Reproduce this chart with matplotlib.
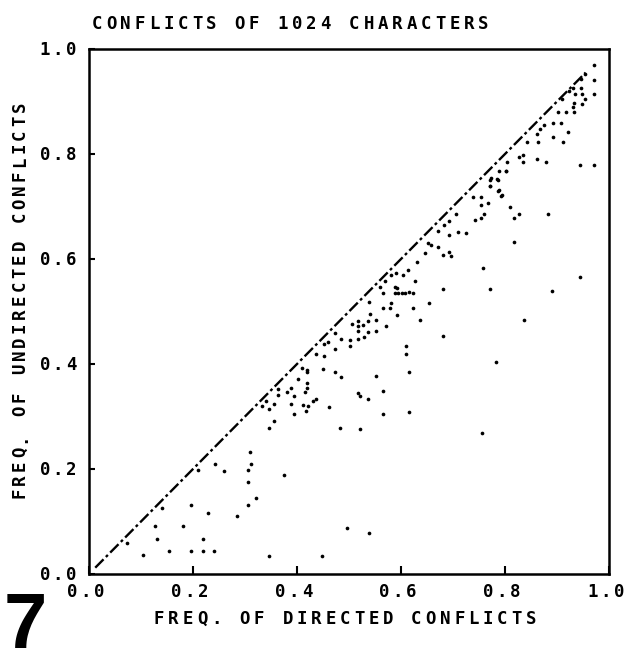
import matplotlib
matplotlib.use("Agg")
import matplotlib.pyplot as plt
from matplotlib.transforms import IdentityTransform

# ── Data: (directed, undirected) conflict frequencies ──
DIAG_X = [0.012, 0.955]
DIAG_Y = [0.012, 0.955]

DIRECTED = [
    0.074, 0.104, 0.127, 0.131, 0.140, 0.153, 0.180, 0.196, 0.197, 0.210,
    0.219, 0.219, 0.229, 0.240, 0.242, 0.259, 0.284, 0.305, 0.305, 0.305,
    0.309, 0.312, 0.322, 0.346, 0.449, 0.375, 0.496, 0.538,
    0.346, 0.355, 0.394, 0.346, 0.332, 0.340, 0.356, 0.364, 0.364, 0.380,
    0.388, 0.388, 0.394, 0.401, 0.412, 0.417, 0.415, 0.419, 0.419, 0.419,
    0.420, 0.410, 0.422, 0.430, 0.437, 0.462, 0.436, 0.452, 0.450, 0.459,
    0.452, 0.473, 0.473, 0.473, 0.484, 0.484, 0.501, 0.501, 0.506, 0.517,
    0.517, 0.517, 0.517, 0.526, 0.528, 0.537, 0.537, 0.540, 0.538, 0.551,
    0.552, 0.552, 0.518, 0.521, 0.536, 0.565, 0.565, 0.483, 0.521, 0.565,
    0.565, 0.572, 0.579, 0.581, 0.588, 0.595, 0.601, 0.592,
    0.637, 0.654, 0.623, 0.616, 0.608, 0.623, 0.588, 0.592, 0.560, 0.570,
    0.581, 0.590, 0.603, 0.613, 0.626, 0.631, 0.681, 0.758, 0.772, 0.646,
    0.651, 0.657, 0.671, 0.681, 0.692, 0.696, 0.672, 0.683, 0.692, 0.692,
    0.706, 0.709, 0.725, 0.738, 0.742, 0.754, 0.754, 0.754, 0.759, 0.768,
    0.772, 0.772, 0.784, 0.787, 0.786, 0.792, 0.802, 0.810, 0.817, 0.826,
    0.817,
    0.972, 0.954, 0.946, 0.972, 0.930, 0.946, 0.923, 0.935, 0.948, 0.972,
    0.954, 0.949, 0.910, 0.933, 0.930, 0.901, 0.918, 0.933, 0.892, 0.908,
    0.875, 0.867, 0.922, 0.861, 0.892, 0.911, 0.864, 0.842, 0.826, 0.835,
    0.835, 0.803, 0.862, 0.878, 0.944, 0.972, 0.802, 0.789, 0.773, 0.771,
    0.788, 0.794,
    0.837, 0.783, 0.756, 0.681, 0.610, 0.610, 0.615, 0.615, 0.944, 0.890,
    0.883,
]
UNDIRECTED = [
    0.060, 0.036, 0.091, 0.067, 0.125, 0.044, 0.091, 0.131, 0.044, 0.199,
    0.067, 0.044, 0.116, 0.044, 0.210, 0.196, 0.110, 0.131, 0.176, 0.198,
    0.233, 0.210, 0.144, 0.035, 0.034, 0.189, 0.088, 0.078,
    0.278, 0.291, 0.304, 0.314, 0.320, 0.330, 0.324, 0.341, 0.353, 0.346,
    0.355, 0.324, 0.339, 0.371, 0.321, 0.310, 0.346, 0.355, 0.363, 0.385,
    0.389, 0.393, 0.320, 0.330, 0.333, 0.319, 0.420, 0.416, 0.390, 0.442,
    0.439, 0.429, 0.385, 0.460, 0.448, 0.375, 0.446, 0.434, 0.476, 0.482,
    0.472, 0.462, 0.447, 0.474, 0.451, 0.461, 0.482, 0.496, 0.519, 0.483,
    0.462, 0.378, 0.345, 0.340, 0.333, 0.348, 0.305, 0.278, 0.276, 0.506,
    0.535, 0.473, 0.506, 0.516, 0.535, 0.535, 0.535, 0.493,
    0.483, 0.516, 0.507, 0.537, 0.535, 0.535, 0.547, 0.545, 0.547, 0.558,
    0.570, 0.573, 0.569, 0.579, 0.558, 0.594, 0.543, 0.583, 0.543, 0.612,
    0.631, 0.626, 0.623, 0.607, 0.614, 0.606, 0.653, 0.664, 0.645, 0.673,
    0.686, 0.651, 0.649, 0.719, 0.674, 0.719, 0.702, 0.678, 0.686, 0.707,
    0.750, 0.740, 0.753, 0.750, 0.730, 0.720, 0.767, 0.700, 0.679, 0.686,
    0.633,
    0.970, 0.952, 0.942, 0.941, 0.926, 0.926, 0.920, 0.914, 0.914, 0.915,
    0.904, 0.896, 0.905, 0.898, 0.890, 0.880, 0.880, 0.880, 0.860, 0.860,
    0.855, 0.847, 0.842, 0.838, 0.833, 0.822, 0.822, 0.822, 0.794, 0.798,
    0.784, 0.784, 0.791, 0.785, 0.779, 0.779, 0.768, 0.768, 0.754, 0.740,
    0.731, 0.721,
    0.483, 0.403, 0.269, 0.454, 0.434, 0.419, 0.384, 0.308, 0.565, 0.540,
    0.686,
]

TITLE = "CONFLICTS OF 1024 CHARACTERS"
XLABEL = "FREQ. OF DIRECTED CONFLICTS"
YLABEL = "FREQ. OF UNDIRECTED CONFLICTS"
TICKS = [0.0, 0.2, 0.4, 0.6, 0.8, 1.0]
TICK_LABELS = ["0.0", "0.2", "0.4", "0.6", "0.8", "1.0"]

W, H = 627, 665
FONT = dict(family="DejaVu Sans Mono", weight="bold", size=12.5, color="black")
PITCH = 14.3

fig = plt.figure(figsize=(W / 100, H / 100), dpi=100)
ax = fig.add_axes([89 / W, (H - 574) / H, 520 / W, 525 / H])


def spaced(s, x, y, pitch=PITCH, vertical=False):
    """Plotter-style lettering: one glyph per fixed cell (pixel coords, y up)."""
    n = len(s)
    for i, ch in enumerate(s):
        off = (i - (n - 1) / 2) * pitch
        if vertical:
            fig.text(x, y + off, ch, rotation=90, rotation_mode="anchor",
                     ha="center", va="baseline",
                     transform=IdentityTransform(), **FONT)
        else:
            fig.text(x + off, y, ch, ha="center", va="baseline",
                     transform=IdentityTransform(), **FONT)


# diagonal reference (dash-dot, like the plotter trace)
ax.plot(DIAG_X, DIAG_Y, color="black", lw=1.7,
        dashes=(5, 1.4, 1.2, 1.4), solid_capstyle="butt")
ax.scatter(DIRECTED, UNDIRECTED, s=7, color="black", linewidths=0, zorder=3)

ax.set_xlim(0, 1)
ax.set_ylim(0, 1)
ax.set_xticks(TICKS)
ax.set_yticks(TICKS)
ax.tick_params(axis="x", direction="in", length=6, width=1.5,
               labelbottom=False)
ax.tick_params(axis="y", direction="in", length=4, width=1.5,
               labelleft=False)
for sp in ax.spines.values():
    sp.set_linewidth(1.8)

# tick labels placed at the data positions of the ticks
for v, lab in zip(TICKS, TICK_LABELS):
    px, _ = ax.transData.transform((v, 0))
    spaced(lab, px - 3, H - 597, pitch=13.5)
    _, py = ax.transData.transform((0, v))
    spaced(lab, 58, py - 6, pitch=13)

spaced(TITLE, 290, H - 29)
spaced(XLABEL, 345, H - 624)
spaced(YLABEL, 25, H - 300, pitch=13.8, vertical=True)

# figure number, kept fully inside the canvas
fig.text(4, 1, "7", transform=IdentityTransform(), ha="left",
         va="bottom", family="Liberation Sans", weight="bold", size=56)

fig.savefig("out.png", dpi=100)
